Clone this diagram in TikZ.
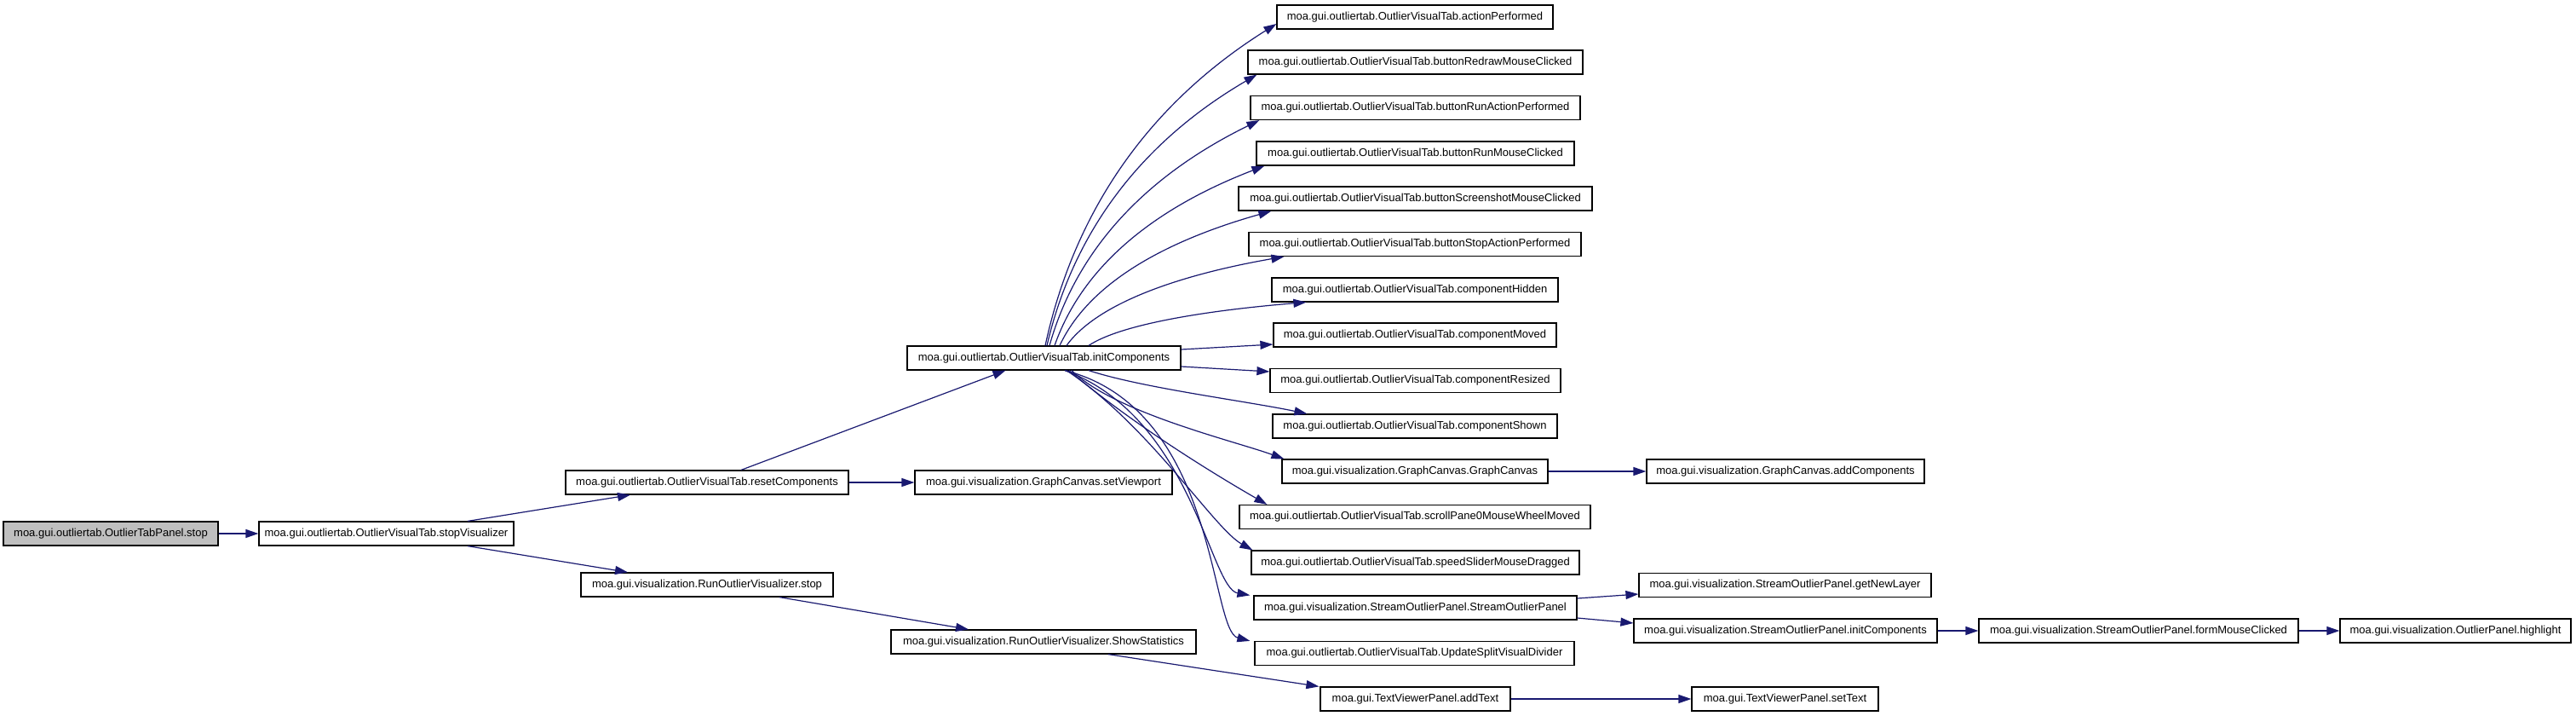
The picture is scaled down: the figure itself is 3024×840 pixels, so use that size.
\documentclass[tikz,border=0pt]{standalone}
\usepackage{fontspec}
\setmainfont{Liberation Sans}
\usetikzlibrary{arrows.meta}
\definecolor{edgeblue}{HTML}{191970}
\definecolor{hilite}{HTML}{BFBFBF}
\tikzset{
  fn/.style={draw=black, line width=1.2pt, fill=white, minimum height=28pt, inner sep=0pt,
    font=\fontsize{13}{15}\selectfont},
  cur/.style={fn, fill=hilite},
  e/.style={draw=edgeblue, line width=1.2pt, -{Triangle[length=15pt,width=10pt]}, edgeblue}
}
\begin{document}
\begin{tikzpicture}[x=1pt,y=-1pt]
\useasboundingbox (0,0) rectangle (3024,840);
% nodes
\node[cur, minimum width=252pt] (stop) at (130,626) {moa.gui.outliertab.OutlierTabPanel.stop};
\node[fn, minimum width=299pt] (stopvis) at (453.5,626) {moa.gui.outliertab.OutlierVisualTab.stopVisualizer};
\node[fn, minimum width=332pt] (reset) at (830,566) {moa.gui.outliertab.OutlierVisualTab.resetComponents};
\node[fn, minimum width=302pt] (setvp) at (1225,566) {moa.gui.visualization.GraphCanvas.setViewport};
\node[fn, minimum width=296pt] (rovstop) at (830,686) {moa.gui.visualization.RunOutlierVisualizer.stop};
\node[fn, minimum width=358pt] (showstat) at (1225,753) {moa.gui.visualization.RunOutlierVisualizer.ShowStatistics};
\node[fn, minimum width=321pt] (init) at (1225.5,420) {moa.gui.outliertab.OutlierVisualTab.initComponents};
\node[fn, minimum width=324pt] (actp) at (1661,20) {moa.gui.outliertab.OutlierVisualTab.actionPerformed};
\node[fn, minimum width=393pt] (bredraw) at (1661.5,73) {moa.gui.outliertab.OutlierVisualTab.buttonRedrawMouseClicked};
\node[fn, minimum width=387pt] (brunact) at (1661.5,126.5) {moa.gui.outliertab.OutlierVisualTab.buttonRunActionPerformed};
\node[fn, minimum width=373pt] (brunmouse) at (1661.5,180) {moa.gui.outliertab.OutlierVisualTab.buttonRunMouseClicked};
\node[fn, minimum width=415pt] (bshot) at (1661.5,233) {moa.gui.outliertab.OutlierVisualTab.buttonScreenshotMouseClicked};
\node[fn, minimum width=390pt] (bstop) at (1661,286.5) {moa.gui.outliertab.OutlierVisualTab.buttonStopActionPerformed};
\node[fn, minimum width=336pt] (chidden) at (1661,340) {moa.gui.outliertab.OutlierVisualTab.componentHidden};
\node[fn, minimum width=332pt] (cmoved) at (1661,393) {moa.gui.outliertab.OutlierVisualTab.componentMoved};
\node[fn, minimum width=341pt] (cresized) at (1661.5,446.5) {moa.gui.outliertab.OutlierVisualTab.componentResized};
\node[fn, minimum width=334pt] (cshown) at (1661,500) {moa.gui.outliertab.OutlierVisualTab.componentShown};
\node[fn, minimum width=312pt] (gcanvas) at (1661,553) {moa.gui.visualization.GraphCanvas.GraphCanvas};
\node[fn, minimum width=412pt] (scroll) at (1661,606.5) {moa.gui.outliertab.OutlierVisualTab.scrollPane0MouseWheelMoved};
\node[fn, minimum width=385pt] (speed) at (1661.5,660) {moa.gui.outliertab.OutlierVisualTab.speedSliderMouseDragged};
\node[fn, minimum width=379pt] (sop) at (1661.5,713) {moa.gui.visualization.StreamOutlierPanel.StreamOutlierPanel};
\node[fn, minimum width=375pt] (usplit) at (1660.5,766.5) {moa.gui.outliertab.OutlierVisualTab.UpdateSplitVisualDivider};
\node[fn, minimum width=223pt] (addtext) at (1661.5,820) {moa.gui.TextViewerPanel.addText};
\node[fn, minimum width=326pt] (addcomp) at (2096,553) {moa.gui.visualization.GraphCanvas.addComponents};
\node[fn, minimum width=343pt] (newlayer) at (2095.5,686.5) {moa.gui.visualization.StreamOutlierPanel.getNewLayer};
\node[fn, minimum width=356pt] (sopinit) at (2096,740) {moa.gui.visualization.StreamOutlierPanel.initComponents};
\node[fn, minimum width=375pt] (formmouse) at (2510.5,740) {moa.gui.visualization.StreamOutlierPanel.formMouseClicked};
\node[fn, minimum width=271pt] (highlight) at (2882.5,740) {moa.gui.visualization.OutlierPanel.highlight};
\node[fn, minimum width=219pt] (settext) at (2095.5,820) {moa.gui.TextViewerPanel.setText};
% edges
\draw[e] (stop) -- (stopvis);
\draw[e] ([xshift=95.5pt]stopvis.north) -- ([xshift=-90pt]reset.south);
\draw[e] ([xshift=95.5pt]stopvis.south) -- ([xshift=-93pt]rovstop.north);
\draw[e] ([xshift=40pt]reset.north) -- ([xshift=-45pt]init.south);
\draw[e] (reset) -- (setvp);
\draw[e] ([xshift=85pt]rovstop.south) -- ([xshift=-88pt]showstat.north);
\draw[e] ([xshift=76pt]showstat.south) -- ([xshift=-1pt]addtext.north west);
\draw[e] (addtext) -- (settext);
\draw[e] (gcanvas) -- (addcomp);
\draw[e] ([yshift=11pt]sop.east) -- ([yshift=-10.5pt]newlayer.west);
\draw[e] ([yshift=-12pt]sop.east) -- ([yshift=9pt]sopinit.west);
\draw[e] (sopinit) -- (formmouse);
\draw[e] (formmouse) -- (highlight);
% from initComponents
\draw[e] ([yshift=10pt]init.east) -- ([yshift=-11pt]cmoved.west);
\draw[e] ([yshift=-10pt]init.east) -- ([yshift=10.5pt]cresized.west);
\draw[e] ([xshift=1.5pt]init.north) .. controls (1268,217) and (1377,104) .. ([yshift=-8pt]actp.west);
\draw[e] ([xshift=3.5pt]init.north) .. controls (1266,247) and (1365,152) .. ([xshift=11pt]bredraw.south west);
\draw[e] ([xshift=6.5pt]init.north) .. controls (1269,274) and (1368,195) .. ([xshift=11pt]brunact.south west);
\draw[e] ([xshift=12.5pt]init.north) .. controls (1275,300) and (1374,237) .. ([xshift=10pt]brunmouse.south west);
\draw[e] ([xshift=18.5pt]init.north) .. controls (1281,326) and (1381,279) .. ([xshift=39pt]bshot.south west);
\draw[e] ([xshift=26.5pt]init.north) .. controls (1290,353) and (1393,321) .. ([xshift=42pt]bstop.south west);
\draw[e] ([xshift=52.5pt]init.north) .. controls (1316,380) and (1419,364) .. ([xshift=41pt]chidden.south west);
\draw[e] ([xshift=52.5pt]init.south) .. controls (1340,455) and (1460,470) .. ([xshift=41pt]cshown.north west);
\draw[e] ([xshift=32.5pt]init.south) .. controls (1308,484) and (1448,517) .. ([xshift=3pt]gcanvas.north west);
\draw[e] ([xshift=29.5pt]init.south) .. controls (1325,494) and (1418,552) .. ([xshift=33pt]scroll.north west);
\draw[e] ([xshift=26.5pt]init.south) .. controls (1350,500) and (1425,620) .. ([xshift=2pt]speed.north west);
\draw[e] ([xshift=24.5pt]init.south) .. controls (1400,490) and (1420,690) .. ([xshift=-4pt]sop.north west);
\draw[e] ([xshift=24.5pt]init.south) .. controls (1430,480) and (1420,740) .. ([xshift=-5pt]usplit.north west);
\end{tikzpicture}
\end{document}
